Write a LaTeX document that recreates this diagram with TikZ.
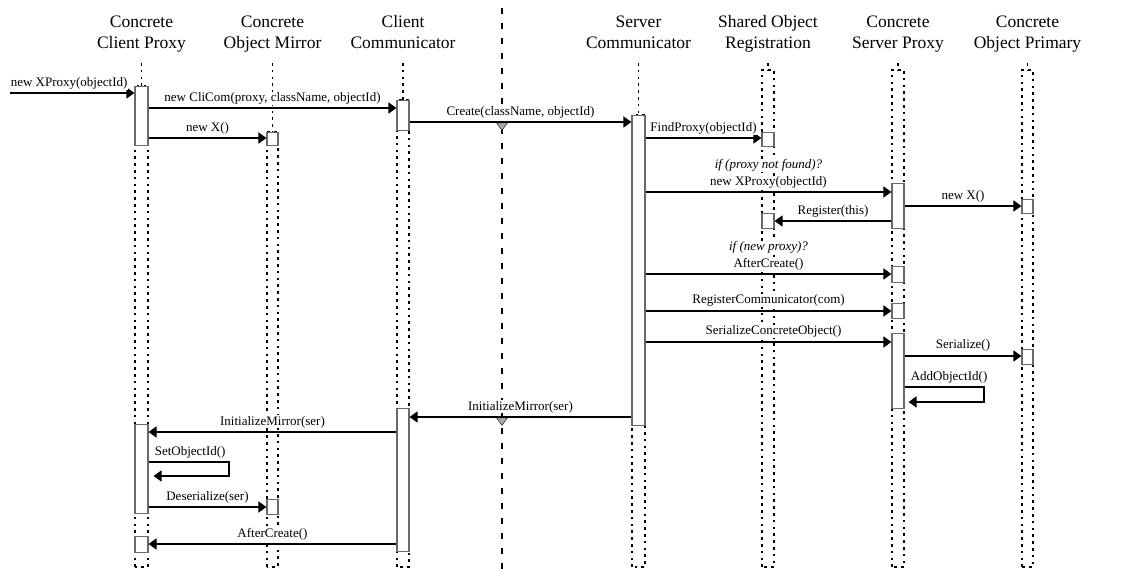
\documentclass[tikz,border=0pt]{standalone}
\usepackage{fontspec}
\setmainfont{Liberation Serif}
\usetikzlibrary{arrows.meta}
\begin{document}
\begin{tikzpicture}[x=1pt,y=-1pt,
  lifeline/.style={line width=1.2pt, dash pattern=on 2.6pt off 4.2pt},
  act/.style={draw={rgb,255:red,105;green,105;blue,105}, fill=white, line width=1.1pt,
              inner sep=0pt, minimum width=12pt, anchor=north},
  msg/.style={line width=1.6pt, -{Triangle[length=8pt,width=11pt]}},
  lbl/.style={font=\fontsize{13}{17}\selectfont, inner sep=0.6pt, fill=white, anchor=base},
  cond/.style={lbl, font=\fontsize{13}{17}\selectfont\itshape},
  head/.style={font=\fontsize{17.5}{21}\selectfont, inner sep=0pt, align=center, anchor=north},
  sep/.style={line width=2.2pt, dash pattern=on 6pt off 9pt},
  gate/.style={fill=gray!65, draw=gray!40!black, line width=0.6pt},
]
\useasboundingbox (0,0) rectangle (1125,569);

% client / server boundary
\draw[sep] (502,8) -- (502,569);

% lifelines: centre stub, then a dotted column down to the bottom
\foreach \x/\w/\t in {141.5/13/86, 272.5/11/132, 403/12/100, 638.5/13/115,
                      768/12/70, 898/12/70, 1027.5/11/70} {
  \draw[lifeline] (\x,63) -- (\x,\t);
  \draw[lifeline] (\x-\w/2,567) rectangle (\x+\w/2,\t);
}

% headers
\node[head] (hcp) at (141.5,15.5) {Concrete\\Client Proxy};
\node[head] (hom) at (272.5,15.5) {Concrete\\Object Mirror};
\node[head] (hcc) at (403,15.5)   {Client\\Communicator};
\node[head] (hsc) at (638.5,15.5) {Server\\Communicator};
\node[head] (hsr) at (768,15.5)   {Shared Object\\Registration};
\node[head] (hsp) at (898,15.5)   {Concrete\\Server Proxy};
\node[head] (hop) at (1027.5,15.5){Concrete\\Object Primary};

% gates where messages cross the boundary
\coordinate (g1) at (502,122.8);
\coordinate (g2) at (502,417.8);
\foreach \g in {g1,g2}
  \draw[gate] ([xshift=-5.5pt]\g) -- ([xshift=5.5pt]\g) -- ([yshift=-7.5pt]\g) -- cycle;

% activation boxes
\node[act, minimum width=13pt, minimum height=59pt]  (cp1) at (141.5,86)  {};
\node[act, minimum width=13pt, minimum height=89pt]  (cp2) at (141.5,424) {};
\node[act, minimum width=13pt, minimum height=16pt]  (cp3) at (141.5,536) {};
\node[act, minimum width=11pt, minimum height=13pt]  (om1) at (272.5,132) {};
\node[act, minimum width=11pt, minimum height=15pt]  (om2) at (272.5,499) {};
\node[act, minimum height=30pt]                      (cc1) at (403,100)   {};
\node[act, minimum height=143pt]                     (cc2) at (403,408)   {};
\node[act, minimum width=13pt, minimum height=310pt] (sc1) at (638.5,115) {};
\node[act, minimum height=14pt]                      (sr1) at (768,132)   {};
\node[act, minimum height=15pt]                      (sr2) at (768,213)   {};
\node[act, minimum height=45pt]                      (sp1) at (898,183)   {};
\node[act, minimum height=16pt]                      (sp2) at (898,266)   {};
\node[act, minimum height=15pt]                      (sp3) at (898,303)   {};
\node[act, minimum height=75pt]                      (sp4) at (898,333)   {};
\node[act, minimum width=11pt, minimum height=14pt]  (op1) at (1027.5,199){};
\node[act, minimum width=11pt, minimum height=15pt]  (op2) at (1027.5,349){};

% messages
\coordinate (in0) at (10,93);
\draw[msg] (in0) -- (cp1.west |- in0);
\node[lbl, anchor=base west] (l0) at (10,87) {new XProxy(objectId)};

\draw[msg] (cp1.east |- 0,108) -- (cc1.west |- 0,108)
  node[lbl, midway, yshift=6.5pt] {new CliCom(proxy, className, objectId)};
\draw[msg] (cp1.east |- 0,138) -- (om1.west |- 0,138)
  node[lbl, midway, yshift=6.5pt] {new X()};
\draw[msg] (cc1.east |- 0,122) -- (sc1.west |- 0,122)
  node[lbl, midway, yshift=6.5pt] {Create(className, objectId)};
\draw[msg] (sc1.east |- 0,138) -- (sr1.west |- 0,138)
  node[lbl, midway, yshift=6.5pt] {FindProxy(objectId)};
\draw[msg] (sc1.east |- 0,192) -- (sp1.west |- 0,192)
  node[lbl, midway, yshift=6pt] {new XProxy(objectId)}
  node[cond, midway, yshift=23pt] {if (proxy not found)?};
\draw[msg] (sp1.east |- 0,206) -- (op1.west |- 0,206)
  node[lbl, midway, yshift=6.5pt] {new X()};
\draw[msg] (sp1.west |- 0,221) -- (sr2.east |- 0,221)
  node[lbl, midway, yshift=6.5pt] {Register(this)};
\draw[msg] (sc1.east |- 0,274) -- (sp2.west |- 0,274)
  node[lbl, midway, yshift=6pt] {AfterCreate()}
  node[cond, midway, yshift=23pt] {if (new proxy)?};
\draw[msg] (sc1.east |- 0,311) -- (sp3.west |- 0,311)
  node[lbl, midway, yshift=7pt] {RegisterCommunicator(com)};
\draw[msg] (sc1.east |- 0,342) -- (sp4.west |- 0,342)
  node[lbl, midway, yshift=7pt, xshift=5pt] {SerializeConcreteObject()};
\draw[msg] (sp4.east |- 0,356) -- (op2.west |- 0,356)
  node[lbl, midway, yshift=7pt] {Serialize()};
\draw[msg, shorten >=4pt] (sp4.east |- 0,387) -- (984,387) -- (984,402) -- (sp4.east |- 0,402);
\node[lbl, anchor=base west] (l12) at (910,381) {AddObjectId()};

\draw[msg] (sc1.west |- 0,417) -- (cc2.east |- 0,417)
  node[lbl, midway, yshift=7pt] {InitializeMirror(ser)};
\draw[msg] (cc2.west |- 0,432) -- (cp2.east |- 0,432)
  node[lbl, midway, yshift=7pt] {InitializeMirror(ser)};
\draw[msg, shorten >=5pt] (cp2.east |- 0,462) -- (229,462) -- (229,476) -- (cp2.east |- 0,476);
\node[lbl, anchor=base west] (l15) at (154,455) {SetObjectId()};
\draw[msg] (cp2.east |- 0,507) -- (om2.west |- 0,507)
  node[lbl, midway, yshift=7pt] {Deserialize(ser)};
\draw[msg] (cc2.west |- 0,544) -- (cp3.east |- 0,544)
  node[lbl, midway, yshift=7pt] {AfterCreate()};
\end{tikzpicture}
\end{document}
